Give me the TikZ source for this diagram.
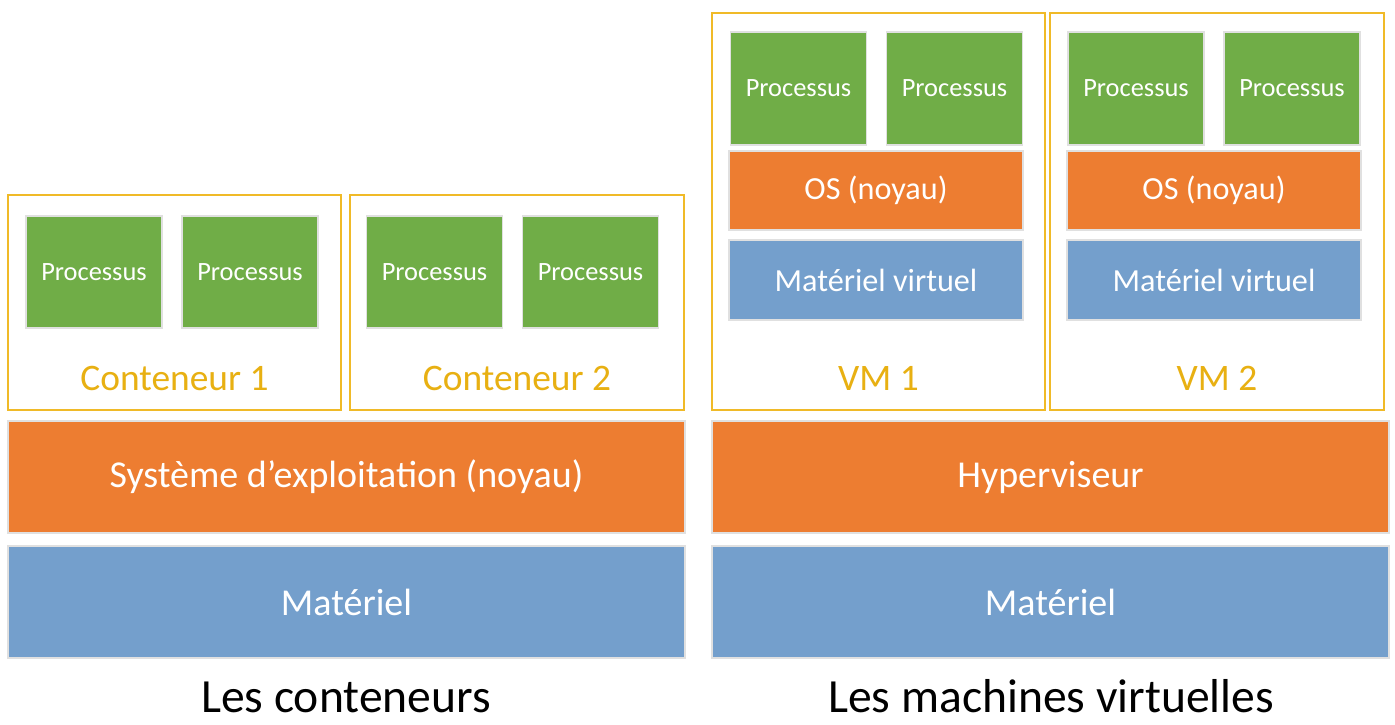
\documentclass[tikz,border=0pt]{standalone}
\usepackage{fontspec}
\setmainfont{Carlito}
\definecolor{procgreen}{RGB}{112,173,71}
\definecolor{osorange}{RGB}{237,125,49}
\definecolor{hwblue}{RGB}{116,159,204}
\definecolor{goldline}{RGB}{240,186,40}
\definecolor{goldtext}{RGB}{232,176,18}
\tikzset{
  px/.style={x=0.5pt,y=-0.5pt},
  layer/.style={rectangle, draw=black!12, line width=0.6pt, inner sep=0pt, text=white},
  procbox/.style={layer, fill=procgreen, minimum width=68pt, minimum height=56pt, font=\fontsize{13.2}{15}\selectfont},
  osbox/.style={layer, fill=osorange, minimum width=147pt, minimum height=39.5pt, font=\fontsize{16.1}{18}\selectfont},
  vhwbox/.style={layer, fill=hwblue, minimum width=147pt, minimum height=40pt, font=\fontsize{16.1}{18}\selectfont},
  bigos/.style={layer, fill=osorange, minimum width=338.5pt, minimum height=56pt, font=\fontsize{19}{22}\selectfont},
  bighw/.style={layer, fill=hwblue, minimum width=338.5pt, minimum height=56pt, font=\fontsize{19}{22}\selectfont},
  holder/.style={rectangle, draw=goldline, line width=1pt, fill=white, inner sep=0pt},
  holdlabel/.style={text=goldtext, font=\fontsize{18.7}{22}\selectfont},
  title/.style={text=black, anchor=base, inner sep=0pt, font=\fontsize{23.8}{26}\selectfont},
}
\begin{document}
\begin{tikzpicture}[px]
\useasboundingbox (0,0) rectangle (1395,724);
\fill[white] (0,0) rectangle (1395,724);

% ---- containers side ----
\node[holder, minimum width=166.5pt, minimum height=107.5pt] (c1) at (174.5,302.5) {};
\node[holder, minimum width=167pt, minimum height=107.5pt] (c2) at (517,302.5) {};
\node[procbox] (c1p1) at (94,272) {Processus};
\node[procbox] (c1p2) at (250,272) {Processus};
\node[procbox] (c2p1) at (434.5,272) {Processus};
\node[procbox] (c2p2) at (590.5,272) {Processus};
\node[holdlabel] (c1l) at (174.5,378) {Conteneur 1};
\node[holdlabel] (c2l) at (517,378) {Conteneur 2};
\node[bigos] (sys) at (346.5,477) {Système d’exploitation (noyau)};
\node[bighw] (hwl) at (346.5,602) {Matériel};
\node[title] (tl) at (346,712) {Les conteneurs};

% ---- VM side ----
\node[holder, minimum width=166.5pt, minimum height=198.5pt] (vm1) at (878.5,211.5) {};
\node[holder, minimum width=167pt, minimum height=198.5pt] (vm2) at (1217,211.5) {};
\node[procbox, minimum height=56.5pt] (v1p1) at (798.5,88.5) {Processus};
\node[procbox, minimum height=56.5pt] (v1p2) at (954.5,88.5) {Processus};
\node[procbox, minimum height=56.5pt] (v2p1) at (1136,88.5) {Processus};
\node[procbox, minimum height=56.5pt] (v2p2) at (1292,88.5) {Processus};
\node[osbox] (os1) at (876,190.5) {OS (noyau)};
\node[osbox] (os2) at (1214,190.5) {OS (noyau)};
\node[vhwbox] (mv1) at (876,280) {Matériel virtuel};
\node[vhwbox] (mv2) at (1214,280) {Matériel virtuel};
\node[holdlabel] (vm1l) at (878.5,378) {VM 1};
\node[holdlabel] (vm2l) at (1217,378) {VM 2};
\node[bigos] (hyp) at (1050.5,477) {Hyperviseur};
\node[bighw] (hwr) at (1050.5,602) {Matériel};
\node[title] (tr) at (1051,712) {Les machines virtuelles};
\end{tikzpicture}
\end{document}
